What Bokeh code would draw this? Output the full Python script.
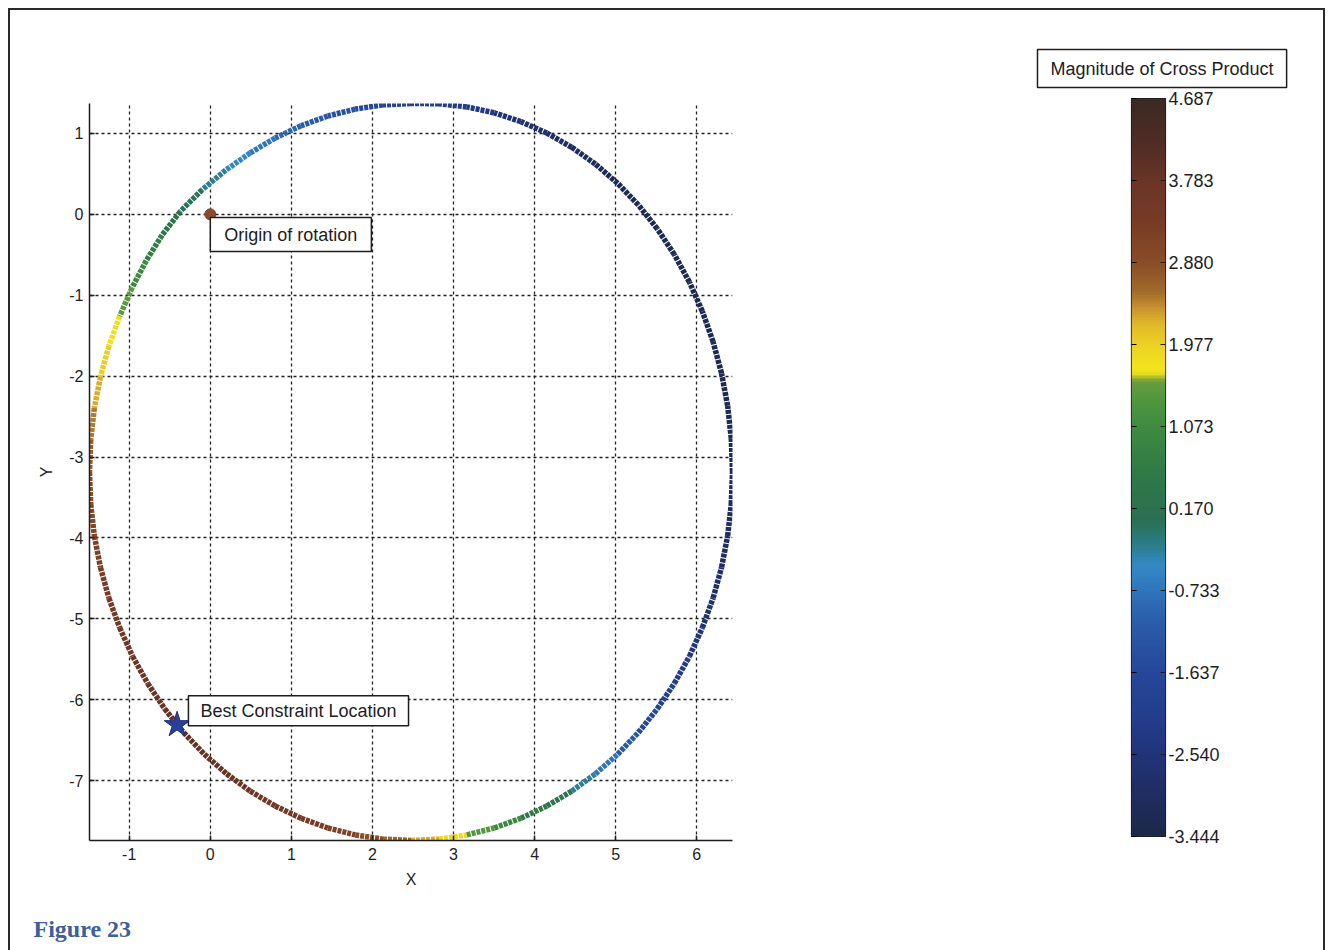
import numpy as np
from bokeh.plotting import figure
from bokeh.models import (Range1d, Label, Title, FixedTicker, LinearAxis,
                          NumeralTickFormatter, LinearColorMapper)
from bokeh.layouts import row
from bokeh.embed import file_html
from bokeh.resources import INLINE

# ---------------- data ----------------
curve_x = [6.440, 6.425, 6.380, 6.305, 6.201, 6.068, 5.909, 5.723, 5.512, 5.279,
           5.024, 4.749, 4.458, 4.151, 3.831, 3.501, 3.163, 2.821, 2.475, 2.129,
           1.787, 1.449, 1.119, 0.799, 0.492, 0.190, -0.100, -0.370, -0.595, -0.790,
           -0.965, -1.118, -1.251, -1.355, -1.430, -1.475, -1.490, -1.475, -1.430, -1.355,
           -1.251, -1.118, -0.959, -0.773, -0.562, -0.329, -0.074, 0.201, 0.492, 0.799,
           1.119, 1.449, 1.787, 2.129, 2.475, 2.821, 3.163, 3.501, 3.831, 4.151,
           4.458, 4.749, 5.024, 5.279, 5.512, 5.723, 5.909, 6.068, 6.201, 6.305,
           6.380, 6.425]
curve_y = [-3.185, -2.774, -2.367, -1.966, -1.576, -1.199, -0.838, -0.497, -0.178, 0.116,
           0.383, 0.621, 0.829, 1.004, 1.146, 1.255, 1.328, 1.367, 1.370, 1.353,
           1.301, 1.215, 1.095, 0.943, 0.760, 0.546, 0.304, 0.036, -0.257, -0.572,
           -0.907, -1.260, -1.627, -2.006, -2.394, -2.788, -3.185, -3.582, -3.976, -4.364,
           -4.743, -5.110, -5.463, -5.798, -6.113, -6.406, -6.674, -6.916, -7.130, -7.313,
           -7.465, -7.585, -7.671, -7.723, -7.740, -7.723, -7.671, -7.585, -7.465, -7.313,
           -7.130, -6.916, -6.674, -6.406, -6.113, -5.798, -5.463, -5.110, -4.743, -4.364,
           -3.976, -3.582]
cross_mag = [-3.10, -3.15, -3.20, -3.24, -3.27, -3.29, -3.30, -3.30, -3.28, -3.24,
             -3.17, -3.08, -2.96, -2.82, -2.66, -2.48, -2.28, -2.08, -1.88, -1.68,
             -1.48, -1.27, -1.06, -0.85, -0.64, -0.40, -0.15, 0.15, 0.50, 0.85,
             1.25, 1.66, 1.90, 2.12, 2.38, 2.60, 2.78, 2.94, 3.10, 3.25,
             3.40, 3.54, 3.66, 3.76, 3.84, 3.88, 3.86, 3.80, 3.70, 3.57,
             3.42, 3.25, 3.05, 2.78, 2.45, 2.05, 1.62, 1.20, 0.80, 0.42,
             0.00, -0.55, -1.00, -1.40, -1.78, -2.10, -2.38, -2.60, -2.78, -2.92,
             -3.02, -3.07]
origin_x = [0.0]
origin_y = [0.0]
best_x = [-0.41]
best_y = [-6.31]
x_ticks = [-1, 0, 1, 2, 3, 4, 5, 6]
y_ticks = [-7, -6, -5, -4, -3, -2, -1, 0, 1]
cbar_ticks = [4.687, 3.783, 2.880, 1.977, 1.073, 0.170, -0.733, -1.637, -2.540, -3.444]
cbar_low = -3.444
cbar_high = 4.687
cbar_title = "Magnitude of Cross Product"
origin_text = "Origin of rotation"
best_text = "Best Constraint Location"
caption_text = "Figure 23"

# ---------------- colormap (style) ----------------
anchors = [(-3.444, "#1c2848"), (-2.95, "#1f2d63"), (-2.55, "#213479"), (-2.22, "#233b8a"),
           (-1.63, "#26479a"), (-1.05, "#2b5eab"), (-0.72, "#3077bd"), (-0.46, "#3389c4"),
           (-0.19, "#2a7a80"), (0.04, "#2b6f52"), (0.51, "#2f7848"), (1.06, "#3e8a42"),
           (1.36, "#4f963e"), (1.58, "#6c9c3e"), (1.66, "#e6dc22"), (1.72, "#f2e41c"),
           (1.99, "#ecd024"), (2.21, "#e0b828"), (2.39, "#c89030"), (2.57, "#a06a2a"),
           (2.87, "#8a4e28"), (3.31, "#783c26"), (3.78, "#6a3526"), (4.22, "#4e2c24"),
           (4.687, "#3a2a22")]
av = np.array([a[0] for a in anchors])
ac = np.array([[int(a[1][i:i + 2], 16) for i in (1, 3, 5)] for a in anchors], dtype=float)
lv = np.linspace(cbar_low, cbar_high, 256)
palette = []
for v in lv:
    rgb = [np.interp(v, av, ac[:, k]) for k in range(3)]
    palette.append("#%02x%02x%02x" % tuple(int(round(c)) for c in rgb))
mapper = LinearColorMapper(palette=palette, low=cbar_low, high=cbar_high)


def color_of(v):
    i = int(round((v - cbar_low) / (cbar_high - cbar_low) * 255))
    return palette[max(0, min(255, i))]


FONT = "Liberation Sans"
INK = "#1e1e1e"

# ---------------- main axes ----------------
p1 = figure(frame_width=643, frame_height=737,
            x_range=Range1d(-1.49, 6.44), y_range=Range1d(-7.74, 1.37),
            output_backend="svg", toolbar_location=None,
            min_border_left=79, min_border_right=268, min_border_top=93, min_border_bottom=106)
p1.outline_line_color = None
p1.background_fill_color = "white"
p1.border_fill_color = "white"

for ax in (p1.xaxis[0], p1.yaxis[0]):
    ax.major_tick_in = 5
    ax.major_tick_out = 0
    ax.minor_tick_line_color = None
    ax.axis_line_color = INK
    ax.axis_line_width = 1.5
    ax.major_tick_line_color = INK
    ax.major_tick_line_width = 1.5
    ax.major_label_text_font = FONT
    ax.major_label_text_font_size = "16px"
    ax.major_label_text_color = INK
    ax.axis_label_text_font = FONT
    ax.axis_label_text_font_size = "16px"
    ax.axis_label_text_font_style = "normal"
    ax.axis_label_text_color = INK
p1.xaxis.ticker = FixedTicker(ticks=x_ticks)
p1.yaxis.ticker = FixedTicker(ticks=y_ticks)
p1.xaxis.major_label_overrides = {t: str(t) for t in x_ticks}
p1.yaxis.major_label_overrides = {t: str(t) for t in y_ticks}
p1.xaxis.axis_label = "X"
p1.yaxis.axis_label = "Y"
p1.xaxis.major_label_standoff = 7
p1.yaxis.major_label_standoff = 6
p1.xaxis.axis_label_standoff = 8
p1.yaxis.axis_label_standoff = 11

for g in (p1.xgrid[0], p1.ygrid[0]):
    g.grid_line_color = "#222222"
    g.grid_line_dash = "3 3"
    g.grid_line_width = 1.3
p1.xgrid.ticker = FixedTicker(ticks=x_ticks)
p1.ygrid.ticker = FixedTicker(ticks=y_ticks)

cx = np.array(curve_x)
cy = np.array(curve_y)
cv = np.array(cross_mag)
seg_col = [color_of(0.5 * (a + b)) for a, b in zip(cv, np.roll(cv, -1))]
p1.segment(x0=cx, y0=cy, x1=np.roll(cx, -1), y1=np.roll(cy, -1),
           line_color=seg_col, line_width=5.5, line_dash="4 1")

p1.scatter(x=origin_x, y=origin_y, size=11, marker="circle",
           fill_color="#8c4a2c", line_color="#7a3e26")
p1.scatter(x=best_x, y=best_y, size=27, marker="star",
           fill_color="#2b3f96", line_color="#1f2f78", line_width=1)

# padding given as (horizontal, vertical)
p1.add_layout(Label(x=origin_x[0] + 0.0, y=origin_y[0] - 0.04, text=origin_text,
                    anchor="top_left", text_font=FONT, text_font_size="18px", text_color=INK,
                    background_fill_color="white", border_line_color=INK, border_line_width=1.5,
                    padding=(14, 7)))
p1.add_layout(Label(x=-0.27, y=-5.95, text=best_text,
                    anchor="top_left", text_font=FONT, text_font_size="18px", text_color=INK,
                    background_fill_color="white", border_line_color=INK, border_line_width=1.5,
                    padding=(12, 5)))
p1.add_layout(Title(text=caption_text, align="left", offset=-56, standoff=47,
                    text_font="Liberation Serif", text_font_style="bold", text_font_size="24px",
                    text_color="#3d5f9e"), "below")

# ---------------- colour bar ----------------
p2 = figure(frame_width=34, frame_height=738,
            x_range=Range1d(0, 1), y_range=Range1d(cbar_low, cbar_high),
            output_backend="svg", toolbar_location=None,
            x_axis_location=None, y_axis_location="right",
            min_border_left=131, min_border_right=158, min_border_top=93, min_border_bottom=104,
            styles={"margin-top": "-5px"})
p2.grid.visible = False
p2.outline_line_color = INK
p2.outline_line_width = 1.2
p2.border_fill_color = None
p2.border_fill_alpha = 0
grad = np.linspace(cbar_low, cbar_high, 256).reshape(256, 1)
p2.image(image=[grad], x=0, y=cbar_low, dw=1, dh=cbar_high - cbar_low, color_mapper=mapper)

ya = p2.yaxis[0]
ya.ticker = FixedTicker(ticks=cbar_ticks)
ya.formatter = NumeralTickFormatter(format="0.000")
ya.major_tick_in = 5
ya.major_tick_out = 0
ya.minor_tick_line_color = None
ya.axis_line_color = None
ya.major_tick_line_color = INK
ya.major_label_standoff = 3
ya.major_label_text_font = FONT
ya.major_label_text_font_size = "18px"
ya.major_label_text_color = INK
la = LinearAxis(ticker=FixedTicker(ticks=cbar_ticks), major_tick_in=5, major_tick_out=0,
                minor_tick_line_color=None, axis_line_color=None, major_label_text_color=None,
                major_label_text_font_size="1px")
p2.add_layout(la, "left")

p2.add_layout(Title(text=cbar_title, align="left", offset=-94, standoff=22,
                    text_font=FONT, text_font_size="18px", text_font_style="normal",
                    text_color=INK, background_fill_color="white",
                    border_line_color=INK, border_line_width=1.5, padding=(13, 9)), "above")

layout = row(p1, p2, styles={"border-left": "2px solid #2a2a2a",
                             "border-top": "2px solid #2a2a2a",
                             "border-right": "2px solid #2a2a2a",
                             "margin-left": "8px", "margin-top": "8px",
                             "background-color": "white"})

open("out.html", "w").write(file_html(layout, INLINE))
